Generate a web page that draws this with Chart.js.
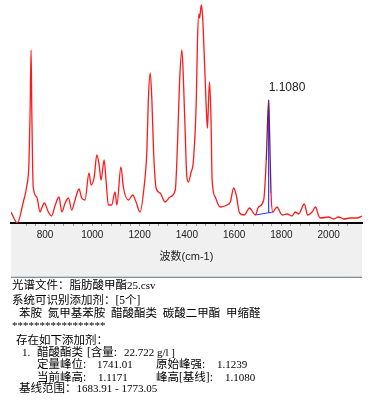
<!DOCTYPE html>
<html>
<head>
<meta charset="utf-8">
<script src="https://cdn.jsdelivr.net/npm/chart.js@4.4.1/dist/chart.umd.min.js"></script>
<style>
    body { margin: 0; background: #fff; }
    #wrap { position: relative; width: 370px; height: 405px; overflow: hidden; }
    #spectrum { position: absolute; left: 0; top: 0; }
    .ln { position: absolute; height: 14px; line-height: 14px; white-space: pre; color: #000;
          font-family: "Liberation Serif", "Noto Sans CJK SC", serif; font-size: 11.5px; }
    .ln span { position: absolute; top: 0; }
    .n { font-size: 11px; }
</style>
</head>
<body>
<div id="wrap">
    <canvas id="spectrum" width="370" height="279"></canvas>

    <div class="ln" style="left:12px;top:278px">光谱文件：脂肪酸甲酯<span class="n" style="position:static">25.csv</span></div>
    <div class="ln" style="left:12px;top:293px">系统可识别添加剂：[5个]</div>
    <div class="ln" style="left:19px;top:306px">苯胺  氮甲基苯胺  醋酸酯类  碳酸二甲酯  甲缩醛</div>
    <div class="ln n" style="left:12px;top:318px">*****************</div>
    <div class="ln" style="left:16px;top:333px">存在如下添加剂：</div>
    <div class="ln" style="left:0;top:345px;width:370px">
        <span class="n" style="left:22px">1.</span>
        <span style="left:37px">醋酸酯类</span>
        <span style="left:87px">[含量:</span>
        <span class="n" style="left:124px">22.722 g/l ]</span>
    </div>
    <div class="ln" style="left:0;top:357px;width:370px">
        <span style="left:37px">定量峰位:</span>
        <span class="n" style="left:97px">1741.01</span>
        <span style="left:156px">原始峰强:</span>
        <span class="n" style="left:217px">1.1239</span>
    </div>
    <div class="ln" style="left:0;top:370px;width:370px">
        <span style="left:37px">当前峰高:</span>
        <span class="n" style="left:98px">1.1171</span>
        <span style="left:156px">峰高[基线]:</span>
        <span class="n" style="left:225px">1.1080</span>
    </div>
    <div class="ln" style="left:19px;top:381px">基线范围：<span class="n" style="position:static">1683.91 - 1773.05</span></div>
</div>

<script>
// spectrum (wavenumber cm-1 / intensity)
const waveNumbers = [656, 683, 708, 722, 732, 737, 741, 744, 750, 765, 779, 786, 797, 814, 828, 842, 859, 871, 885, 899,
    913, 927, 944, 955, 969, 986, 995, 1008, 1019, 1029, 1037, 1050, 1058, 1068, 1082, 1096, 1104, 1121, 1132, 1153,
    1171, 1185, 1202, 1219, 1231, 1237, 1245, 1252, 1259, 1270, 1287, 1308, 1329, 1351, 1360, 1369, 1379, 1386, 1393, 1400,
    1407, 1417, 1428, 1440, 1445, 1451, 1454, 1461, 1466, 1470, 1478, 1482, 1487, 1492, 1496, 1502, 1507, 1520, 1541, 1570,
    1584, 1598, 1609, 1623, 1643, 1665, 1690, 1703, 1725, 1736, 1746, 1751, 1756, 1764, 1781, 1803, 1824, 1845, 1859, 1873,
    1897, 1911, 1930, 1944, 1958, 1965, 2000, 2020, 2042, 2064, 2092, 2120, 2141];
const intensity = [0.11, 0.00, 0.21, 0.36, 0.60, 1.13, 1.73, 1.13, 0.36, 0.26, 0.11, 0.15, 0.20, 0.11, 0.07, 0.17, 0.26, 0.11, 0.20, 0.25,
    0.13, 0.23, 0.34, 0.25, 0.23, 0.50, 0.38, 0.46, 0.68, 0.58, 0.43, 0.63, 0.43, 0.18, 0.18, 0.31, 0.18, 0.56, 0.35, 0.23,
    0.28, 0.21, 0.11, 0.36, 0.73, 1.23, 1.50, 1.23, 0.73, 0.35, 0.30, 0.21, 0.26, 0.33, 0.76, 1.40, 1.73, 1.40, 0.90, 0.46,
    0.41, 0.50, 0.63, 1.23, 1.83, 2.09, 2.05, 2.18, 2.09, 1.90, 1.40, 1.16, 0.95, 1.23, 1.41, 1.06, 0.43, 0.26, 0.16, 0.18,
    0.21, 0.35, 0.28, 0.10, 0.08, 0.15, 0.08, 0.16, 0.23, 0.63, 1.23, 0.80, 0.30, 0.11, 0.16, 0.08, 0.09, 0.07, 0.11, 0.09,
    0.19, 0.08, 0.11, 0.16, 0.07, 0.05, 0.06, 0.04, 0.06, 0.04, 0.05, 0.05, 0.07];

// quantified peak (acetate) and its baseline
const peakRange = [1736, 1756];
const baselineX = [1690, 1764];
const baselineY = [0.08, 0.11];
const peakX = [1746, 1746];
const peakY = [0.103, 1.23];
const peakLabel = '1.1080';

const xTickLabels = [800, 1000, 1200, 1400, 1600, 1800, 2000];
const xRange = [656, 2141];
const yRange = [0, 2.23];

function toPoints(xs, ys) {
    return xs.map((x, i) => ({x: x, y: ys[i]}));
}

// gray strip under the axis + separator line
const axisPanel = {
    id: 'axisPanel',
    beforeDraw(chart) {
        const c = chart.ctx, a = chart.chartArea, h = chart.height;
        c.save();
        c.fillStyle = '#f0f0f0';
        c.fillRect(a.left, a.bottom, a.right - a.left, h - 3 - a.bottom);
        c.fillStyle = '#c9d3e0';
        c.fillRect(a.left, h - 3, a.right - a.left, 1);
        c.fillStyle = '#8a8f96';
        c.fillRect(a.left, h - 2, a.right - a.left, 1);
        c.restore();
    }
};

// value label above the peak
const peakText = {
    id: 'peakText',
    afterDatasetsDraw(chart) {
        const c = chart.ctx;
        const px = chart.scales.x.getPixelForValue(peakX[0]);
        const py = chart.scales.y.getPixelForValue(peakY[1]) - 12;
        c.save();
        c.font = '12px "Liberation Sans", Arial, sans-serif';
        c.fillStyle = '#222';
        c.textAlign = 'left';
        c.textBaseline = 'middle';
        c.fillText(peakLabel, px, py);
        c.restore();
    }
};

new Chart(document.getElementById('spectrum'), {
    type: 'line',
    data: {
        datasets: [{
            data: toPoints(waveNumbers, intensity),
            borderColor: '#ff1a1a',
            borderWidth: 1.3,
            pointRadius: 0,
            cubicInterpolationMode: 'monotone',
            segment: {
                borderColor: ctx => (ctx.p0.parsed.x >= peakRange[0] && ctx.p1.parsed.x <= peakRange[1]) ? '#7a1a55' : undefined
            }
        }, {
            data: toPoints(baselineX, baselineY),
            borderColor: '#2b3cff',
            borderWidth: 1.2,
            pointRadius: 0,
            tension: 0
        }, {
            data: toPoints(peakX, peakY),
            borderColor: '#2b3cff',
            borderWidth: 1.2,
            pointRadius: 0,
            tension: 0
        }]
    },
    options: {
        responsive: false,
        animation: false,
        devicePixelRatio: 1,
        layout: {padding: {left: 11, right: 8, top: 0, bottom: 0}},
        plugins: {legend: {display: false}, tooltip: {enabled: false}},
        scales: {
            x: {
                type: 'linear',
                min: xRange[0],
                max: xRange[1],
                afterBuildTicks: scale => {
                    scale.ticks = scale.ticks.filter(t => t.value % 40 === 0);
                },
                afterFit: scale => { scale.height = 56; },
                ticks: {
                    stepSize: 40,
                    autoSkip: false,
                    maxRotation: 0,
                    padding: 3,
                    color: '#222',
                    font: {family: '"Liberation Sans", Arial, sans-serif', size: 10},
                    callback: v => xTickLabels.includes(v) ? String(v) : ''
                },
                grid: {drawOnChartArea: false, drawTicks: true, tickLength: 3, color: '#9a9a9a'},
                border: {color: '#000', width: 2},
                title: {
                    display: true,
                    text: '波数(cm-1)',
                    color: '#222',
                    font: {family: '"Liberation Sans", "Noto Sans CJK SC", sans-serif', size: 11},
                    padding: {top: 0, bottom: 15}
                }
            },
            y: {
                display: false,
                min: yRange[0],
                max: yRange[1]
            }
        }
    },
    plugins: [axisPanel, peakText]
});
</script>
</body>
</html>
